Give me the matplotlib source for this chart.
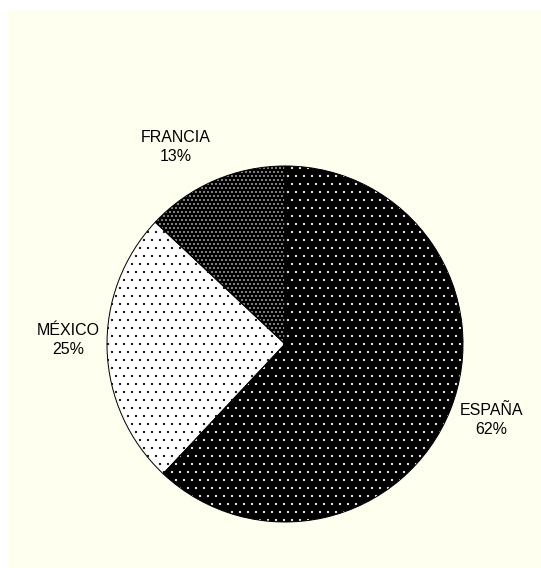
import matplotlib
matplotlib.use("Agg")
import matplotlib.pyplot as plt
from matplotlib.patches import Rectangle
import numpy as np

# data
countries = ["FRANCIA", "MÉXICO", "ESPAÑA"]
shares = [13, 25, 62]

# styles (face colour, dot colour, hatch)
faces = ["black", "white", "black"]
dots = ["white", "black", "white"]
hatches = ["..", ".", "."]

DPI = 48  # hatch cell = 1 inch = DPI px, so '.' -> 8 px grid
W, H = 541, 568
CREAM = "#fffff0"

plt.rcParams["hatch.linewidth"] = 1.0
fig = plt.figure(figsize=(W / DPI, H / DPI), dpi=DPI, facecolor="white")
fig.patches.append(Rectangle((8 / W, 0), 1, (H - 10) / H, transform=fig.transFigure,
                             facecolor=CREAM, edgecolor="none", zorder=-10))

# pie centre at (285, 344) px from top, radius 178 px
R = 178
cx, cy = 285, H - 344
span = 1.5
side = 2 * span * R
ax = fig.add_axes([(cx - side / 2) / W, (cy - side / 2) / H, side / W, side / H])

wedges, _ = ax.pie(shares, startangle=90, counterclock=True, radius=1,
                   colors=faces, wedgeprops=dict(linewidth=0))
for w, dc, h in zip(wedges, dots, hatches):
    w.set_edgecolor(dc); w.set_hatch(h)

# outlines on top
ax.pie(shares, startangle=90, counterclock=True, radius=1,
       wedgeprops=dict(fill=False, edgecolor="black", linewidth=1.5))

ax.set_xlim(-span, span); ax.set_ylim(-span, span)
ax.set_aspect("equal"); ax.axis("off")

# label placement (angle deg, distance in radii)
label_pos = [(119, 1.265), (179, 1.22), (-20.3, 1.234)]
total = sum(shares)
for name, v, (ang, d) in zip(countries, shares, label_pos):
    a = np.deg2rad(ang)
    ax.text(d * np.cos(a), d * np.sin(a), f"{name}\n{round(100 * v / total)}%",
            ha="center", va="center", fontsize=16 / DPI * 72,
            family="Liberation Sans", linespacing=1.3, color="black")

fig.savefig("out.png", dpi=DPI, facecolor="white")
